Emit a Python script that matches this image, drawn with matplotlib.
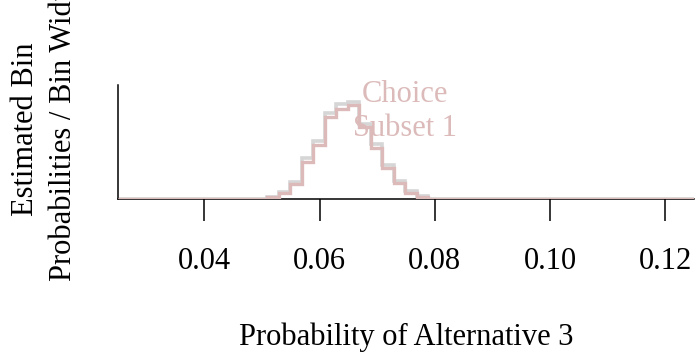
import matplotlib.pyplot as plt

plt.rcParams["font.family"] = "Liberation Serif"

# Histogram bins (left edge of each bin, width 0.002)
bin_edges = [0.0489, 0.0509, 0.0529, 0.0549, 0.0569, 0.0589, 0.0609, 0.0629,
             0.0649, 0.0669, 0.0689, 0.0709, 0.0729, 0.0749, 0.0769, 0.0789,
             0.0809]
# Estimated bin probability / bin width
density = [0.4, 2.0, 5.9, 13.7, 32.6, 47.2, 71.9, 79.2,
           82.1, 62.9, 45.4, 27.9, 14.0, 6.1, 2.6, 0.4]
# Upper band of the estimate
density_upper = [0.5, 2.4, 6.8, 15.5, 36.0, 51.0, 75.5, 83.0,
                 85.5, 66.0, 48.5, 30.5, 15.8, 7.0, 3.0, 0.5]

xticks = [0.04, 0.06, 0.08, 0.10, 0.12]
xlim = (0.025, 0.125)

pink = "#dcbaba"
grey = "#d6d6d6"

fig = plt.figure(figsize=(6.96, 3.58), dpi=100)
W, H = 696, 358
ax = fig.add_axes([118 / W, 1 - 199.5 / H, (694 - 118) / W, (199.5 - 85) / H])

edges = [xlim[0]] + bin_edges + [xlim[1]]
ax.stairs([0] + density_upper + [0], edges, baseline=None,
          color=grey, linewidth=2.6, zorder=2)
ax.stairs([0] + density + [0], edges, baseline=None,
          color=pink, linewidth=2.4, zorder=3)

ax.text(0.0748, 77, "Choice\nSubset 1", color=pink, fontsize=22,
        ha="center", va="center", multialignment="center",
        linespacing=1.25, zorder=4)

ax.set_xlim(*xlim)
ax.set_ylim(0, 100)
ax.set_xticks(xticks, [f"{t:.2f}" for t in xticks])
ax.set_yticks([])
ax.tick_params(axis="x", length=15.5, width=1.1, pad=19, labelsize=22,
               direction="out")
for side in ("top", "right"):
    ax.spines[side].set_visible(False)
ax.spines["left"].set_linewidth(1.1)
ax.spines["bottom"].set_linewidth(1.1)
ax.spines["bottom"].set_zorder(1)
ax.patch.set_visible(False)

fig.text(406 / W, 1 - 345 / H, "Probability of Alternative 3",
         fontsize=22, ha="center", va="baseline")

# two-line y label, rotated; the second line runs past the top edge
ylab_y = 1 - 129 / H
fig.text(33 / W, ylab_y, "Estimated Bin", fontsize=22, rotation=90,
         rotation_mode="anchor", ha="center", va="baseline")
fig.text(71 / W, ylab_y, "Probabilities / Bin Width", fontsize=22,
         rotation=90, rotation_mode="anchor", ha="center", va="baseline")

fig.savefig("out.png", dpi=100)
